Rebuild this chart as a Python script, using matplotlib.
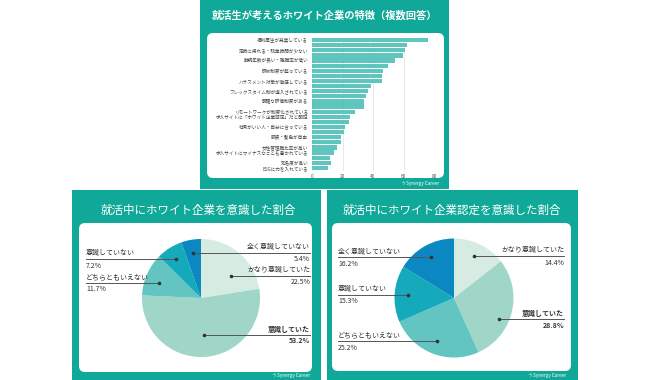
import numpy as np
import matplotlib
matplotlib.use("Agg")
import matplotlib.pyplot as plt
from matplotlib.patches import FancyBboxPatch, Rectangle

plt.rcParams['font.family'] = ['Noto Sans CJK JP', 'DejaVu Sans']

# ---------------- data ----------------
bar_title = "就活生が考えるホワイト企業の特徴（複数回答）"
bar_labels = [
    "福利厚生が充実している", "",
    "定時に帰れる・残業時間が少ない", "",
    "勤続年数が長い・離職率が低い", "",
    "研修制度が整っている", "",
    "ハラスメント対策が徹底している", "",
    "フレックスタイム制が導入されている", "",
    "明確な評価制度がある", "",
    "リモートワークが制度化されている",
    "求人サイトに「ホワイト企業認定」だと明記", "",
    "社風がいい人・自分に合っている", "",
    "服装・髪色が自由", "",
    "女性管理職比率が高い",
    "求人サイトにマイナスなことも書かれている", "",
    "知名度が高い",
    "ESGに力を入れている",
]
bar_values = [75.8, 62.1, 61.3, 59.5, 54.2, 49.6, 46.8, 45.9, 45.9, 38.7,
              36.9, 35.2, 34.3, 34.3, 28.0, 25.2, 24.4, 21.6, 20.7, 19.0,
              19.0, 16.2, 14.4, 11.8, 12.6, 10.8]
x_ticks = [0, 20, 40, 60, 80]

pie1_title = "就活中にホワイト企業を意識した割合"
pie2_title = "就活中にホワイト企業認定を意識した割合"
pie_labels = ["かなり意識していた", "意識していた", "どちらともいえない",
              "意識していない", "全く意識していない"]
pie1_values = [22.5, 53.2, 11.7, 7.2, 5.4]
pie2_values = [14.4, 28.8, 25.2, 15.3, 16.2]
bold_label = "意識していた"

# ---------------- style ----------------
TEAL = "#10a898"
BAR_COLOR = "#5ec5bf"
PIE_COLORS = ["#d6ece3", "#a0d6c8", "#62c5c2", "#14a9bb", "#0b87c2"]
TXT = "#333333"
W, H = 650, 380

fig = plt.figure(figsize=(6.5, 3.8), dpi=100)
bg = fig.add_axes([0, 0, 1, 1])
bg.set_xlim(0, W)
bg.set_ylim(H, 0)
bg.axis('off')


def panel(x0, y0, x1, y1, ix0, iy0, ix1, iy1):
    bg.add_patch(Rectangle((x0, y0), x1 - x0, y1 - y0, facecolor=TEAL,
                           edgecolor='none', zorder=0))
    bg.add_patch(FancyBboxPatch((ix0, iy0), ix1 - ix0, iy1 - iy0,
                                boxstyle="round,pad=0,rounding_size=6",
                                facecolor='white', edgecolor='none', zorder=1))


def logo(x, y):
    bg.text(x, y, "ϟ Synergy Career", color='white', fontsize=3.4,
            ha='right', va='center', zorder=3)


def axes_px(x0, y0, w, h):
    return fig.add_axes([x0 / W, 1 - (y0 + h) / H, w / W, h / H])


# top panel
panel(200, 0, 449, 189, 207, 33, 444, 178)
bg.text(325, 16, bar_title, color='white', fontsize=7.4, fontweight='bold',
        ha='center', va='center', zorder=3)
logo(439, 184)

# bottom panels
panel(72, 190, 321, 380, 79, 223, 312, 372)
panel(327, 190, 578, 380, 332, 223, 571, 371)
bg.text(198, 210, pie1_title, color='white', fontsize=8.3,
        ha='center', va='center', zorder=3)
bg.text(452, 210, pie2_title, color='white', fontsize=8.3,
        ha='center', va='center', zorder=3)
logo(310, 375)
logo(566, 375)

# ---------------- bar chart ----------------
ax = axes_px(312, 37.5, 122, 133)
y = np.arange(len(bar_values))
ax.barh(y, bar_values, height=0.82, color=BAR_COLOR, zorder=2)
ax.set_ylim(len(bar_values) - 0.5, -0.5)
ax.set_xlim(0, 80)
ax.set_xticks(x_ticks)
ax.set_xticklabels([str(t) for t in x_ticks], fontsize=3.4, color='#555555')
ax.set_yticks(y)
ax.set_yticklabels(bar_labels, fontsize=3.3, color='#444444')
ax.tick_params(length=0, pad=2.8)
ax.xaxis.grid(True, color='#e4e4e4', lw=0.6)
ax.set_axisbelow(True)
for s in ax.spines.values():
    s.set_visible(False)
ax.patch.set_alpha(0)

# ---------------- pies ----------------
def draw_pie(cx, cy, r, values, nudges):
    pax = axes_px(cx - r, cy - r, 2 * r, 2 * r)
    wedges, _ = pax.pie(values, colors=PIE_COLORS, startangle=90,
                        counterclock=False, radius=1,
                        wedgeprops=dict(linewidth=0))
    pax.set_xlim(-1, 1)
    pax.set_ylim(-1, 1)
    pax.axis('off')
    for w, lab, v, nd in zip(wedges, pie_labels, values, nudges):
        th = np.deg2rad((w.theta1 + w.theta2) / 2)
        dx, dy = 0.78 * np.cos(th), 0.78 * np.sin(th) + nd
        weight = 'bold' if lab == bold_label else 'normal'
        if dx > -0.2:
            tx, ha = 1.85, 'right'
        else:
            tx, ha = -1.95, 'left'
        pax.plot([dx, tx], [dy, dy], color='#555555', lw=0.7,
                 clip_on=False, zorder=4)
        pax.plot([dx], [dy], 'o', color='#333333', ms=1.6,
                 clip_on=False, zorder=5)
        pax.text(tx, dy + 0.03, lab, fontsize=5, color=TXT, ha=ha,
                 va='bottom', fontweight=weight, clip_on=False)
        pax.text(tx, dy - 0.04, f"{v:.1f}%", fontsize=5, color=TXT, ha=ha,
                 va='top', fontweight=weight, clip_on=False)


draw_pie(201, 298, 59, pie1_values, [-0.22, 0.15, -0.05, 0, 0])
draw_pie(454, 298, 59.5, pie2_values, [0, -0.17, 0, 0, 0])

fig.savefig("out.png", dpi=100)
